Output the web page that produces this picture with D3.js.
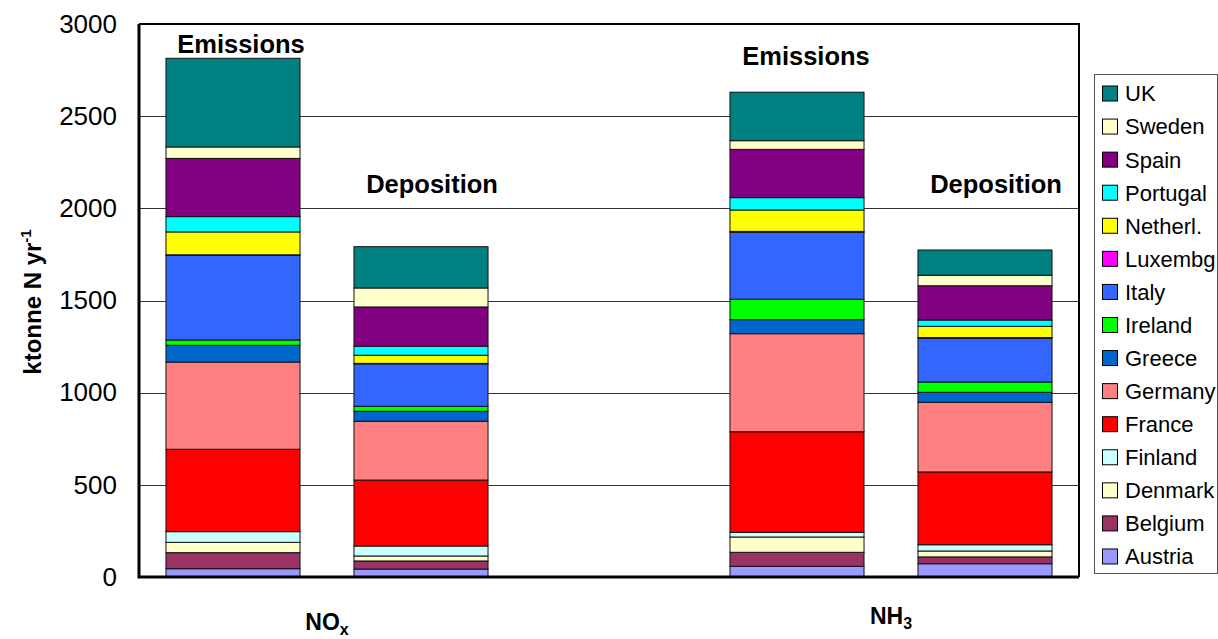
<!DOCTYPE html>
<html>
<head>
<meta charset="utf-8">
<script src="https://cdn.jsdelivr.net/npm/d3@7"></script>
<style>
  body { margin: 0; background: #fff; }
  svg text { font-family: Arial, "Liberation Sans", sans-serif; fill: #000; }
</style>
</head>
<body>
<svg id="chart" width="1218" height="639"></svg>
<script>
// countries, bottom of the stack first
const countries = ['Austria', 'Belgium', 'Denmark', 'Finland', 'France', 'Germany', 'Greece',
    'Ireland', 'Italy', 'Luxembg', 'Netherl.', 'Portugal', 'Spain', 'Sweden', 'UK'];
const countryColors = ['#9999ff', '#993366', '#ffffcc', '#ccffff', '#ff0000', '#ff8080', '#0066cc',
    '#00ff00', '#3366ff', '#ff00ff', '#ffff00', '#00ffff', '#800080', '#ffffcc', '#008080'];

// ktonne N / yr
const noxEmission   = [45, 87, 56, 58, 447, 473, 91, 29, 459, 3, 124, 83, 316, 62, 481];
const noxDeposition = [43, 44, 27, 54, 358, 319, 54, 27, 230, 3, 44, 49, 213, 103, 224];
const nh3Emission   = [58, 76, 83, 25, 546, 532, 76, 111, 363, 5, 116, 67, 262, 47, 263];
const nh3Deposition = [72, 37, 32, 34, 395, 378, 54, 56, 237, 4, 61, 34, 186, 57, 137];

// 5 slots on the x axis, the middle one stays empty
const slots = ['noxEm', 'noxDep', 'gap', 'nh3Em', 'nh3Dep'];
const barSlots = ['noxEm', 'noxDep', 'nh3Em', 'nh3Dep'];
const barValues = [noxEmission, noxDeposition, nh3Emission, nh3Deposition];
const barTitles = ['Emissions', 'Deposition', 'Emissions', 'Deposition'];
const yTicks = [0, 500, 1000, 1500, 2000, 2500, 3000];

const svg = d3.select('#chart');
const plot = { left: 139, right: 1079, top: 24, bottom: 577 };

const x = d3.scaleBand().domain(slots)
    .range([plot.left, plot.right])
    .paddingInner(0.287).paddingOuter(0.1435);
const y = d3.scaleLinear().domain([0, 3000]).range([plot.bottom, plot.top]);

// gridlines
svg.append('g')
    .selectAll('line')
    .data(yTicks.filter(t => t > 0 && t < 3000))
    .enter().append('line')
    .attr('x1', plot.left).attr('x2', plot.right)
    .attr('y1', d => Math.round(y(d)) + 0.5).attr('y2', d => Math.round(y(d)) + 0.5)
    .attr('stroke', '#333').attr('stroke-width', 1);

// stacked bars
const rows = barSlots.map((s, i) => {
    const row = { slot: s };
    countries.forEach((c, j) => { row[c] = barValues[i][j]; });
    return row;
});
const stacked = d3.stack().keys(countries)(rows);

svg.append('g')
    .selectAll('g')
    .data(stacked)
    .enter().append('g')
    .attr('fill', (d, i) => countryColors[i])
    .selectAll('rect')
    .data(d => d)
    .enter().append('rect')
    .attr('x', d => x(d.data.slot))
    .attr('width', x.bandwidth())
    .attr('y', d => y(d[1]))
    .attr('height', d => y(d[0]) - y(d[1]))
    .attr('stroke', '#111').attr('stroke-width', 1);

// bar titles
const titleShift = [8, 11, 9, 11];
const titleValue = [2843, 2083, 2778, 2083];
svg.append('g')
    .selectAll('text')
    .data(barSlots)
    .enter().append('text')
    .attr('x', (d, i) => x(d) + x.bandwidth() / 2 + titleShift[i])
    .attr('y', (d, i) => y(titleValue[i]))
    .attr('text-anchor', 'middle')
    .style('font-size', '25.5px').style('font-weight', 'bold')
    .text((d, i) => barTitles[i]);

// frame
svg.append('path')
    .attr('d', `M${plot.left},${plot.top}H${plot.right}V${plot.bottom}`)
    .attr('fill', 'none').attr('stroke', '#000').attr('stroke-width', 2);
svg.append('path')
    .attr('d', `M${plot.left},${plot.top}V${plot.bottom}H${plot.right}`)
    .attr('fill', 'none').attr('stroke', '#000').attr('stroke-width', 3);

// y axis labels
const yAxis = d3.axisLeft(y).tickValues(yTicks).tickFormat(d3.format('d'))
    .tickSize(0).tickPadding(22);
const ya = svg.append('g').attr('transform', `translate(${plot.left},0)`).call(yAxis);
ya.select('.domain').remove();
ya.selectAll('text')
    .style('font-family', 'Arial, "Liberation Sans", sans-serif')
    .style('font-size', '26px').attr('fill', '#000');

// y title
const yTitle = svg.append('text')
    .attr('transform', 'translate(41,302) rotate(-90)')
    .attr('text-anchor', 'middle')
    .style('font-size', '24px').style('font-weight', 'bold');
yTitle.append('tspan').text('ktonne N yr');
yTitle.append('tspan').attr('dy', -10).style('font-size', '15px').text('-1');

// category labels under the axis
const groups = [
    { main: 'NO', sub: 'x', slots: ['noxEm', 'noxDep'], base: 630 },
    { main: 'NH', sub: '3', slots: ['nh3Em', 'nh3Dep'], base: 624 }
];
groups.forEach(g => {
    const cx = (x(g.slots[0]) + x(g.slots[1]) + x.bandwidth()) / 2;
    const t = svg.append('text')
        .attr('x', cx).attr('y', g.base)
        .attr('text-anchor', 'middle')
        .style('font-size', '23px').style('font-weight', 'bold');
    t.append('tspan').text(g.main);
    t.append('tspan').attr('dy', 5).style('font-size', '16px').text(g.sub);
});

// legend
const legend = svg.append('g').attr('transform', 'translate(1094,74)');
legend.append('rect')
    .attr('x', 0.5).attr('y', 0.5).attr('width', 123).attr('height', 499)
    .attr('fill', '#fff').attr('stroke', '#555').attr('stroke-width', 1);
const legendOrder = countries.map((c, i) => i).reverse();
const item = legend.selectAll('g.item')
    .data(legendOrder)
    .enter().append('g')
    .attr('class', 'item')
    .attr('transform', (d, k) => `translate(8,${19.5 + k * 33.07})`);
item.append('rect')
    .attr('x', 0.5).attr('y', -7.5).attr('width', 15).attr('height', 15)
    .attr('fill', d => countryColors[d]).attr('stroke', '#000').attr('stroke-width', 1);
item.append('text')
    .attr('x', 23).attr('y', 0).attr('dy', '0.36em')
    .style('font-size', '22px')
    .text(d => countries[d]);
</script>
</body>
</html>
